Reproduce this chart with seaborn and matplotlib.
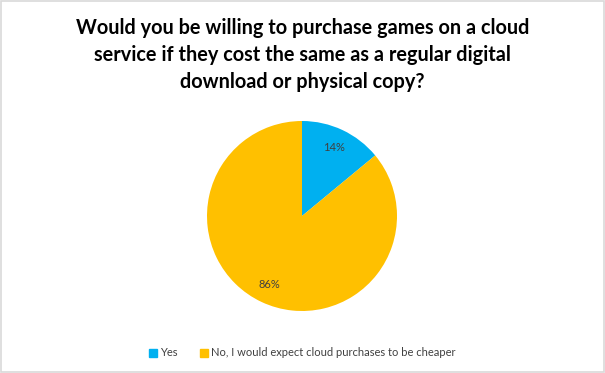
import matplotlib
matplotlib.use("Agg")
import matplotlib.pyplot as plt
import matplotlib.patches as mpatches
import seaborn as sns

sns.set_theme(style="white")
plt.rcParams["font.family"] = ["Lato", "DejaVu Sans"]

TITLE = ("Would you be willing to purchase games on a cloud\n"
         "service if they cost the same as a regular digital\n"
         "download or physical copy?")
labels = ["Yes", "No, I would expect cloud purchases to be cheaper"]
shares = [14, 86]
colors = ["#00B0F0", "#FFC000"]

W, H = 605, 373
fig = plt.figure(figsize=(W / 100, H / 100), dpi=100)
fig.patch.set_facecolor("white")

# thin frame around the whole picture
fig.patches.append(mpatches.Rectangle((0.001, 0.002), 0.997, 0.995, transform=fig.transFigure,
                                      fill=False, edgecolor="#d9d9d9", linewidth=1.2))

fig.text(0.5, 1 - 55 / H, TITLE, ha="center", va="center", fontsize=14.3,
         fontweight="bold", color="black", linespacing=1.45)

# pie centred at (302, 216) px, radius ~95 px
r = 95
ax = fig.add_axes([(302 - r) / W, (H - 216 - r) / H, 2 * r / W, 2 * r / H])
wedges, _, autotexts = ax.pie(shares, colors=colors, startangle=90, counterclock=False,
                              autopct="%d%%", pctdistance=0.8,
                              wedgeprops=dict(linewidth=0),
                              textprops=dict(fontsize=8, color="#404040"))
ax.set_aspect("equal")
ax.set_xlim(-1, 1)
ax.set_ylim(-1, 1)
ax.axis("off")

handles = [mpatches.Patch(color=c, label=l) for c, l in zip(colors, labels)]
fig.legend(handles=handles, loc="center", bbox_to_anchor=(0.5, 1 - 353 / H), ncol=2,
           frameon=False, fontsize=8, handlelength=0.7, handleheight=0.7,
           handletextpad=0.3, columnspacing=2.0, labelcolor="#404040")

fig.savefig("out.png", dpi=100)
